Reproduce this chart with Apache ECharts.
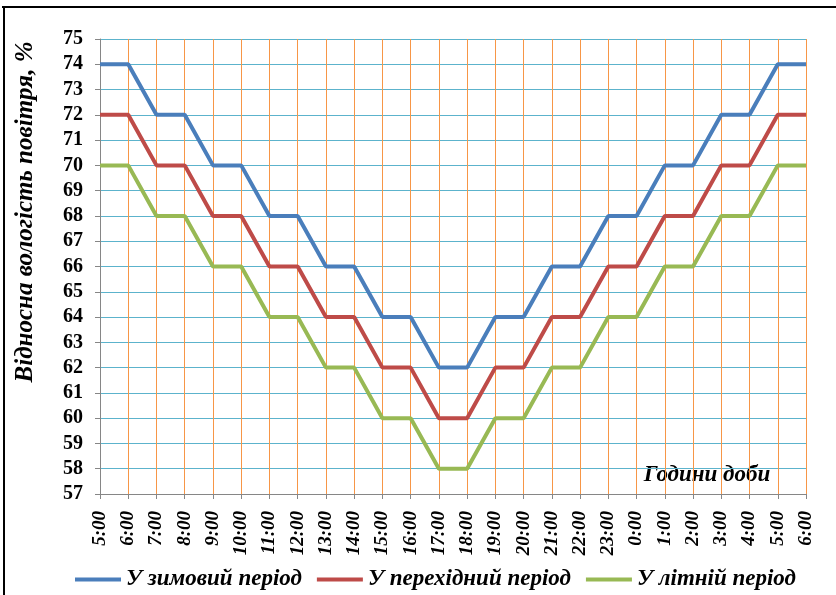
<!DOCTYPE html>
<html><head><meta charset="utf-8">
<script src="https://cdn.jsdelivr.net/npm/echarts@6/dist/echarts.min.js"></script>
<style>html,body{margin:0;padding:0;background:#fff}#c{width:836px;height:595px}</style>
</head><body><div id="c"></div>
<script>
const hours = ['5:00','6:00','7:00','8:00','9:00','10:00','11:00','12:00','13:00','14:00','15:00','16:00','17:00','18:00','19:00','20:00','21:00','22:00','23:00','0:00','1:00','2:00','3:00','4:00','5:00','6:00'];
const winter = [74,74,72,72,70,70,68,68,66,66,64,64,62,62,64,64,66,66,68,68,70,70,72,72,74,74];
const transition = [72,72,70,70,68,68,66,66,64,64,62,62,60,60,62,62,64,64,66,66,68,68,70,70,72,72];
const summer = [70,70,68,68,66,66,64,64,62,62,60,60,58,58,60,60,62,62,64,64,66,66,68,68,70,70];
const names = ['У зимовий період','У перехідний період','У літній період'];
const colors = ['#4a7ebb','#be4b48','#98b954'];
const font = 'Liberation Serif';
const chart = echarts.init(document.getElementById('c'));
const mk = (n, d, c) => ({name:n, type:'line', data:d, symbol:'none', lineStyle:{width:4, color:c}, itemStyle:{color:c}});
chart.setOption({
  animation:false,
  grid:{left:100,right:30,top:39,bottom:101},
  legend:{bottom:-1,left:70,icon:'rect',itemWidth:46,itemHeight:4,itemGap:15,
    textStyle:{fontFamily:font,fontWeight:'bold',fontStyle:'italic',fontSize:23,color:'#000'},
    data:names},
  xAxis:{type:'category',data:hours,boundaryGap:false,
    axisLine:{lineStyle:{color:'#868686',width:1}},
    axisTick:{show:true,interval:0,length:5,lineStyle:{color:'#868686'}},
    axisLabel:{interval:0,rotate:90,margin:17,fontFamily:font,fontWeight:'bold',fontStyle:'italic',fontSize:19,color:'#000'},
    splitLine:{show:true,interval:0,lineStyle:{color:'#f79646',width:1}}},
  yAxis:{type:'value',min:57,max:75,interval:1,
    axisLine:{show:true,lineStyle:{color:'#868686'}},
    axisTick:{show:true,length:5,lineStyle:{color:'#868686'}},
    axisLabel:{margin:17,fontFamily:font,fontWeight:'bold',fontSize:20,color:'#000'},
    splitLine:{lineStyle:{color:'#5cb3cc',width:1}}},
  series:[mk(names[0],winter,colors[0]),mk(names[1],transition,colors[1]),mk(names[2],summer,colors[2])],
  graphic:[
    {type:'rect',shape:{x:2,y:6,width:836,height:2},style:{fill:'#000'}},
    {type:'rect',shape:{x:3,y:6,width:2,height:595},style:{fill:'#000'}},
    {type:'text',x:26,y:212,rotation:Math.PI/2,style:{text:'Відносна вологість повітря, %',fontFamily:font,fontSize:25,fontWeight:'bold',fontStyle:'italic',fill:'#000',align:'center',verticalAlign:'middle'}},
    {type:'text',x:707,y:475,style:{text:'Години доби',fontFamily:font,fontSize:23,fontWeight:'bold',fontStyle:'italic',fill:'#000',align:'center',verticalAlign:'middle'}}
  ]
});
</script></body></html>
